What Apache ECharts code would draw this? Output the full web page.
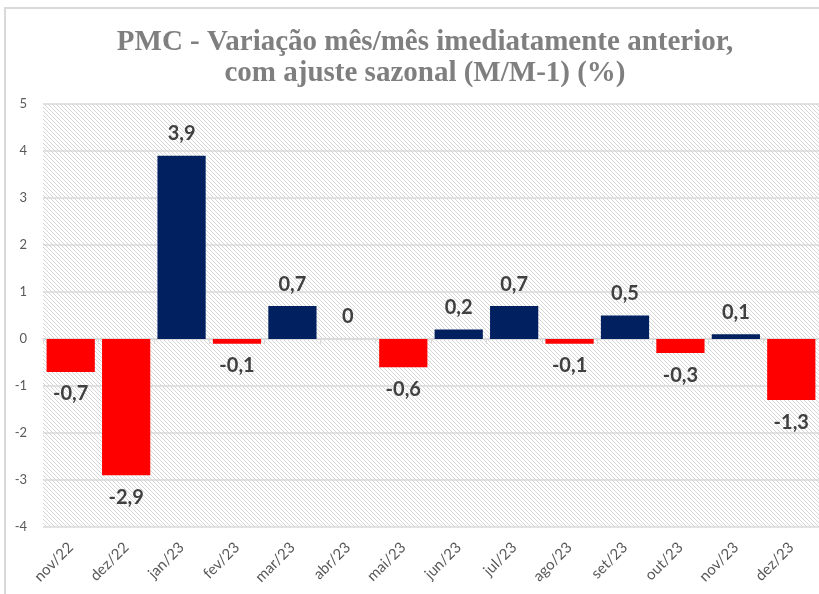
<!DOCTYPE html>
<html>
<head>
<meta charset="utf-8">
<script src="https://cdn.jsdelivr.net/npm/echarts@6/dist/echarts.min.js"></script>
<style>
  html, body { margin: 0; padding: 0; background: #fff; }
  #chart { width: 819px; height: 594px; }
</style>
</head>
<body>
<div id="chart"></div>
<script>
const months = ["nov/22", "dez/22", "jan/23", "fev/23", "mar/23", "abr/23", "mai/23",
  "jun/23", "jul/23", "ago/23", "set/23", "out/23", "nov/23", "dez/23"];
const values = [-0.7, -2.9, 3.9, -0.1, 0.7, 0, -0.6, 0.2, 0.7, -0.1, 0.5, -0.3, 0.1, -1.3];
const yTicks = [-4, -3, -2, -1, 0, 1, 2, 3, 4, 5];

const NAVY = "#002060";
const RED = "#ff0000";

// hatched plot background
function hatch() {
  const c = document.createElement("canvas");
  c.width = 4; c.height = 4;
  const g = c.getContext("2d");
  g.fillStyle = "#ffffff";
  g.fillRect(0, 0, 4, 4);
  g.strokeStyle = "#d6d6d6";
  g.lineWidth = 1;
  g.beginPath();
  g.moveTo(-1, -1); g.lineTo(5, 5);
  g.moveTo(-1, 3); g.lineTo(1, 5);
  g.moveTo(3, -1); g.lineTo(5, 1);
  g.stroke();
  return c;
}

const fmt = v => String(v).replace(".", ",");

const chart = echarts.init(document.getElementById("chart"));

chart.setOption({
  animation: false,
  backgroundColor: "#fff",
  title: {
    text: "PMC - Variação mês/mês imediatamente anterior,\ncom ajuste sazonal (M/M-1) (%)",
    left: 420,
    textAlign: "center",
    top: 22,
    textStyle: {
      fontFamily: "Liberation Serif",
      fontWeight: "bold",
      fontSize: 29,
      lineHeight: 31,
      color: "#7f7f7f"
    }
  },
  graphic: [{
    type: "rect",
    shape: { x: 5, y: 8, width: 900, height: 700 },
    style: { fill: "none", stroke: "#d9d9d9", lineWidth: 2 },
    silent: true
  }],
  grid: {
    left: 43, right: 0, top: 104, bottom: 67,
    show: true,
    borderWidth: 0,
    backgroundColor: { image: hatch(), repeat: "repeat" }
  },
  xAxis: [{
    type: "category",
    data: months,
    position: "bottom",
    axisLine: { show: false, onZero: false },
    axisTick: { show: false },
    axisLabel: {
      rotate: 45,
      margin: 18,
      fontFamily: "Lato",
      fontSize: 15,
      color: "#595959"
    }
  }, {
    type: "category",
    data: months,
    position: "bottom",
    axisLine: { show: true, onZero: true, lineStyle: { color: "#d9d9d9", width: 1.5 } },
    axisTick: { show: true, length: 5, lineStyle: { color: "#d9d9d9" } },
    axisLabel: { show: false }
  }],
  yAxis: {
    type: "value",
    min: yTicks[0],
    max: yTicks[yTicks.length - 1],
    interval: 1,
    axisLine: { show: false },
    axisTick: { show: false },
    splitLine: { lineStyle: { color: "#d9d9d9", width: 1.5 } },
    axisLabel: {
      margin: 16,
      fontFamily: "Lato",
      fontSize: 13,
      color: "#595959"
    }
  },
  series: [{
    type: "bar",
    xAxisIndex: 0,
    barCategoryGap: "13%",
    data: values.map(v => ({
      value: v,
      itemStyle: { color: v < 0 ? RED : NAVY },
      label: { position: v < 0 ? "bottom" : "top" }
    })),
    label: {
      show: true,
      distance: 12,
      formatter: p => fmt(p.value),
      fontFamily: "Lato",
      fontWeight: "bold",
      fontSize: 20,
      color: "#404040"
    }
  }]
});
</script>
</body>
</html>
